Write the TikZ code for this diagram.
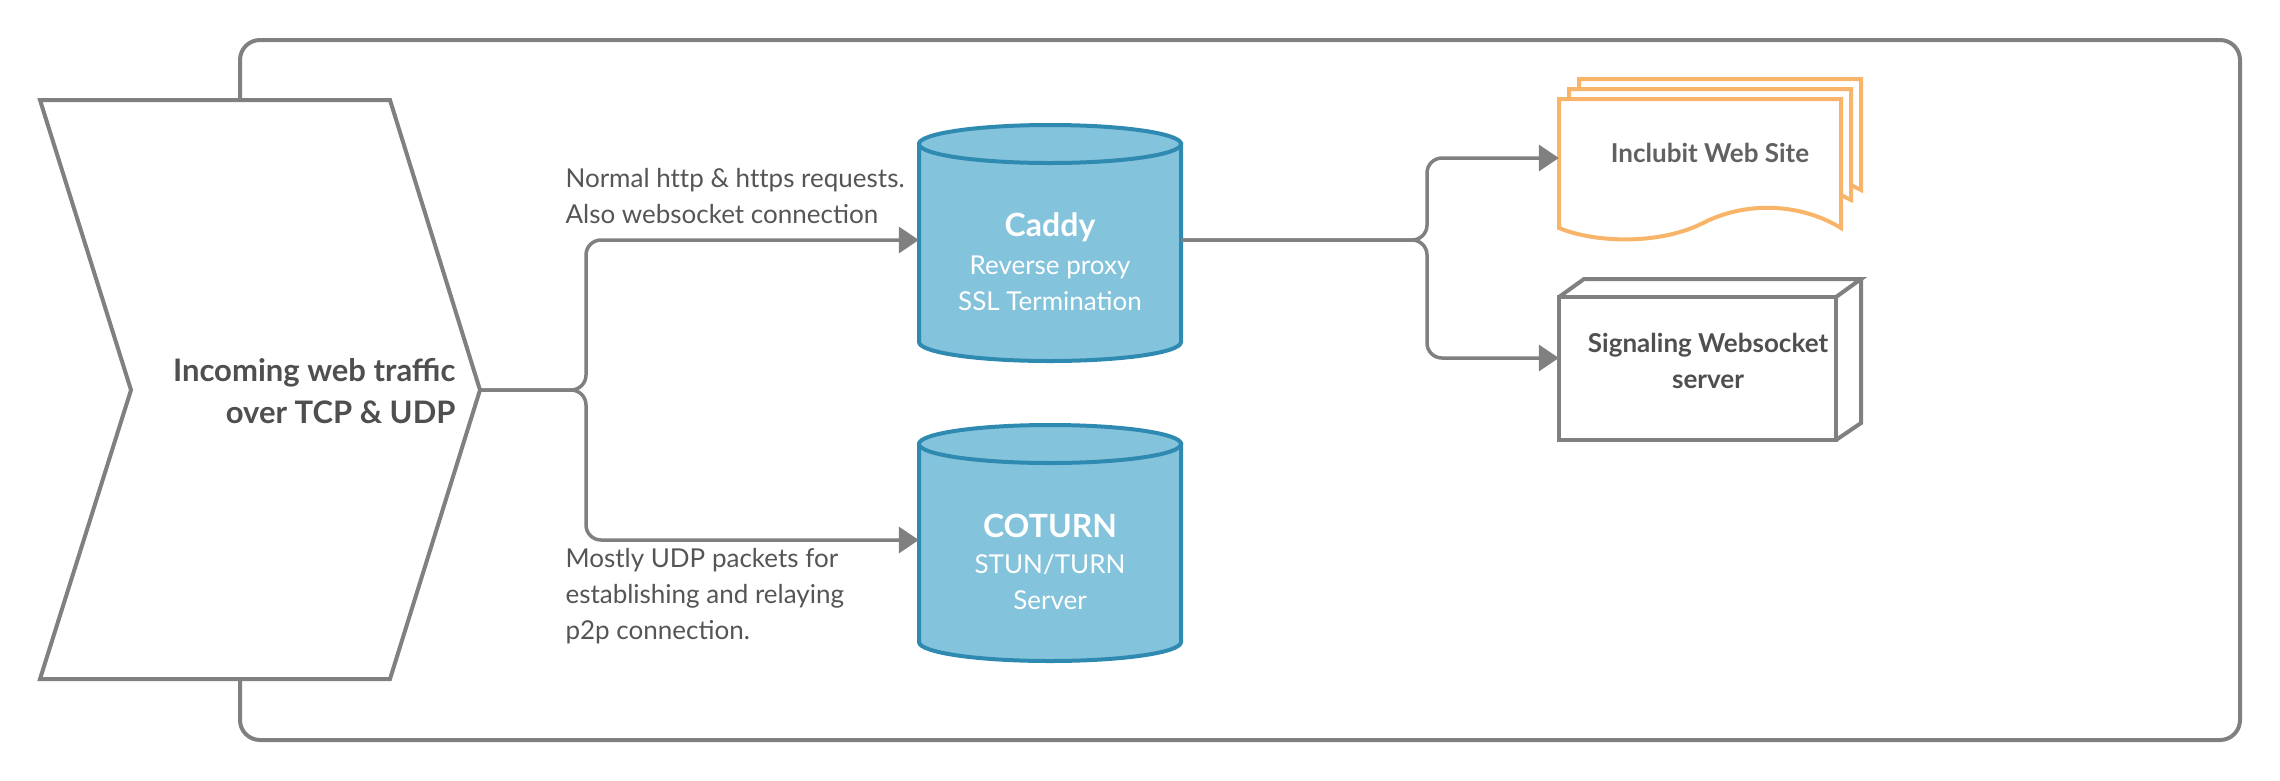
\documentclass[tikz,border=0pt]{standalone}
\usepackage{fontspec}
\setmainfont{Lato}
\usetikzlibrary{arrows.meta}
\definecolor{lgray}{HTML}{808080}
\definecolor{tgray}{HTML}{4F4F4F}
\definecolor{lbl}{HTML}{555555}
\definecolor{cylfill}{HTML}{84C3DC}
\definecolor{cylline}{HTML}{2E8AB0}
\definecolor{orng}{HTML}{F8B469}
\tikzset{
  conn/.style={draw=lgray, line width=3.5pt, rounded corners=15pt, -{Triangle[length=20pt,width=26pt]}},
  frameline/.style={draw=lgray, line width=4pt},
  cylshape/.style={draw=cylline, fill=cylfill, line width=4pt},
  docline/.style={draw=orng, line width=4pt, line join=miter},
  anchorbox/.style={inner sep=0pt, minimum width=#1},
  title/.style={anchor=base, text=white, font=\bfseries\fontsize{32}{36}\selectfont},
  sub/.style={anchor=base, text=white, font=\fontsize{26}{36}\selectfont},
  boxtext/.style={anchor=base, text=tgray, font=\bfseries\fontsize{26}{36}\selectfont},
  lbltext/.style={anchor=base west, text=lbl, font=\fontsize{26}{36}\selectfont},
}
\begin{document}
\begin{tikzpicture}[x=1pt, y=-1pt]
\useasboundingbox (0,0) rectangle (2280,780);
% outer frame
\draw[frameline, rounded corners=20pt] (240,40) rectangle (2240,740);
% incoming chevron
\draw[frameline, fill=white, line join=miter] (40,100) -- (390,100) -- (480,390) -- (390,679) -- (40,679) -- (131,390) -- cycle;
\coordinate (intip) at (480,390);
\node[boxtext, anchor=base east, font=\bfseries\fontsize{31}{36}\selectfont] (inT1) at (459,381) {Incoming web traffic};
\node[boxtext, anchor=base east, font=\bfseries\fontsize{31}{36}\selectfont] (inT2) at (459,423) {over TCP \& UDP};

% Caddy cylinder
\path[cylshape] (919,144) -- (919,342) .. controls (919,352.5) and (977.6,361) .. (1050,361) .. controls (1122.4,361) and (1181,352.5) .. (1181,342) -- (1181,144) -- cycle;
\path[cylshape] (1050,144) ellipse [x radius=131pt, y radius=19pt];
\node[anchorbox=262pt, minimum height=236pt] (caddy) at (1050,240) {};
\node[title] (caddyT1) at (1050,236) {Caddy};
\node[sub] (caddyT2) at (1050,274) {Reverse proxy};
\node[sub] (caddyT3) at (1050,310) {SSL Termination};

% COTURN cylinder
\path[cylshape] (919,444) -- (919,642) .. controls (919,652.5) and (977.6,661) .. (1050,661) .. controls (1122.4,661) and (1181,652.5) .. (1181,642) -- (1181,444) -- cycle;
\path[cylshape] (1050,444) ellipse [x radius=131pt, y radius=19pt];
\node[anchorbox=262pt, minimum height=236pt] (coturn) at (1050,540) {};
\node[title] (cotT1) at (1050,537) {COTURN};
\node[sub] (cotT2) at (1050,573) {STUN/TURN};
\node[sub] (cotT3) at (1050,609) {Server};

% connector labels
\node[lbltext] (l1) at (562,187) {Normal ht\kern0pt tp \& ht\kern0pt tps requests.};
\node[lbltext] (l2) at (562,223) {Also websocket connection};
\node[lbltext] (l3) at (562,567) {Mostly UDP packets for};
\node[lbltext] (l4) at (562,603) {establishing and relaying};
\node[lbltext] (l5) at (562,639) {p2p connection.};

% Web site document stack
\draw[docline] (1579,89) -- (1579,79) -- (1861,79) -- (1861,190) -- (1851,185);
\draw[docline] (1569,99) -- (1569,89) -- (1851,89) -- (1851,200) -- (1841,195);
\draw[docline, fill=white] (1559,99) -- (1841,99) -- (1841,228) .. controls (1800,203) and (1746,201) .. (1703,223) .. controls (1660,245) and (1595,243) .. (1559,228) -- cycle;
\node[anchorbox=282pt, minimum height=118pt] (web) at (1700,158) {};
\node[boxtext, text=tgray!90] (webT) at (1710,162) {Inclubit Web Site};

% Signaling server box
\draw[frameline, line join=miter] (1559,297) rectangle (1836,440);
\draw[frameline, line join=miter] (1559,297) -- (1584,279) -- (1861,279) -- (1836,297);
\draw[frameline, line join=miter] (1836,440) -- (1861,423) -- (1861,279);
\node[anchorbox=277pt, minimum height=143pt] (sig) at (1697.5,358) {};
\node[boxtext] (sigT1) at (1708,352) {Signaling Websocket};
\node[boxtext] (sigT2) at (1708,388) {server};

% connectors
\coordinate (j1) at (586,390);
\coordinate (j2) at (1427,240);
\draw[conn] (intip) -- (j1) |- (caddy.west);
\draw[conn] (intip) -- (j1) |- (coturn.west);
\draw[conn] (caddy.east) -- (j2) |- (web.west);
\draw[conn] (caddy.east) -- (j2) |- (sig.west);
\end{tikzpicture}
\end{document}
